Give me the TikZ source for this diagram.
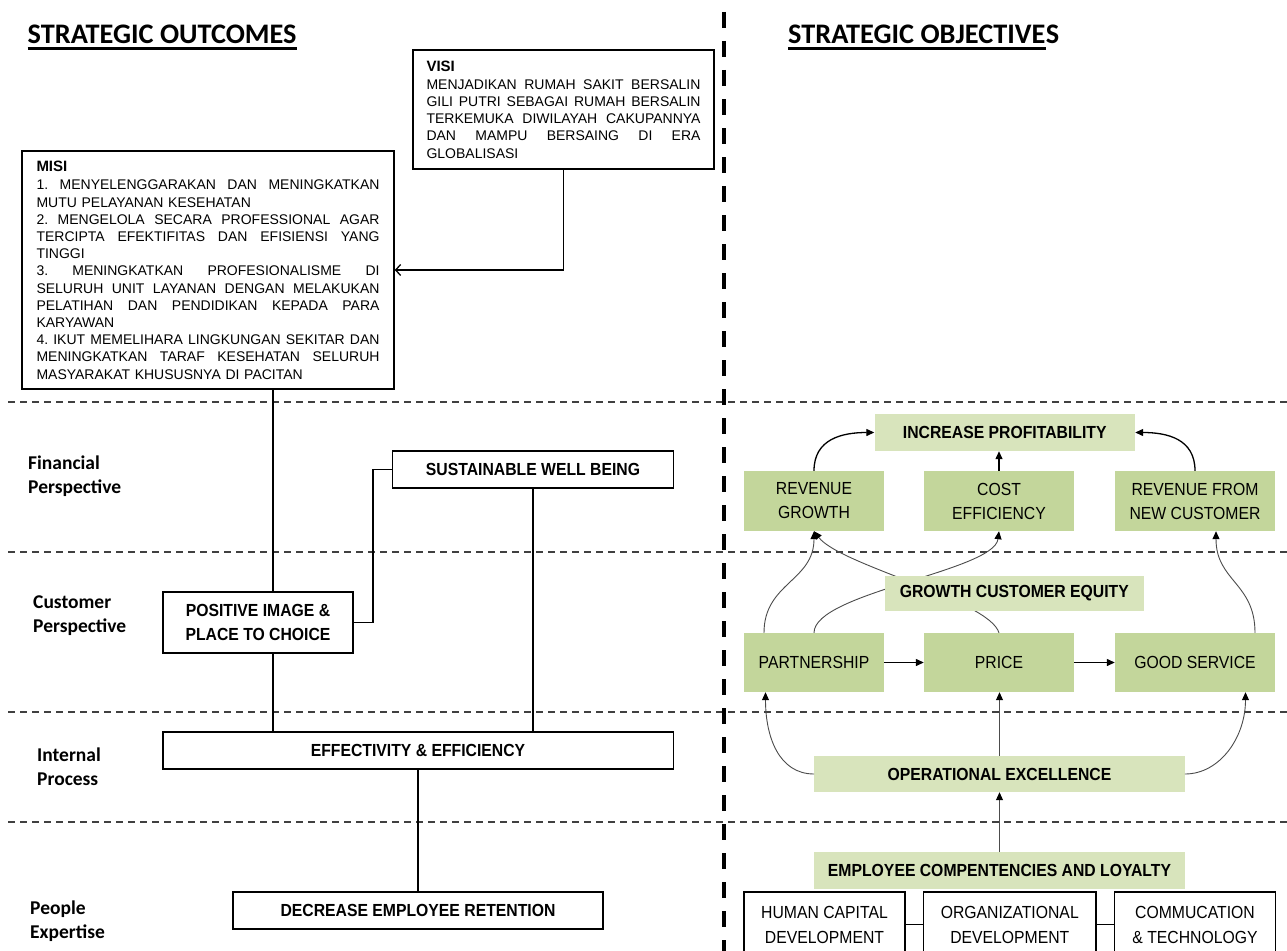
\documentclass[tikz,border=0pt]{standalone}
\usepackage{fontspec}
\setmainfont{Liberation Sans}
\newfontfamily\nar[FakeStretch=0.9]{Liberation Sans}
\newfontfamily\calfont{Carlito}
\usetikzlibrary{arrows.meta,calc}
\definecolor{gD}{RGB}{195,214,155}
\definecolor{gL}{RGB}{216,228,188}
\newcommand\jl[2][343pt]{\leavevmode\hbox to #1{#2}}
\newcommand\gp{\hfill\ }
\tikzset{
 hdash/.style={draw=black!75, line width=1.6pt, dash pattern=on 7pt off 5pt},
 vdash/.style={draw=black, line width=3.6pt, dash pattern=on 16pt off 13pt},
 titl/.style={font=\calfont\bfseries\fontsize{28.3}{31}\selectfont, inner sep=0pt, anchor=base west},
 persp/.style={anchor=west, align=left, inner sep=0pt, font=\calfont\bfseries\fontsize{19.5}{24}\selectfont},
 txtbox/.style={draw=black, line width=1.5pt, fill=white, inner sep=0pt, align=left, font=\fontsize{14}{17.2}\selectfont},
 lbox/.style={draw=black, line width=1.5pt, fill=white, inner sep=0pt, align=center, font=\nar\bfseries\fontsize{17.5}{24}\selectfont},
 gdark/.style={fill=gD, inner sep=0pt, align=center, font=\nar\fontsize{17.5}{24}\selectfont},
 glight/.style={fill=gL, inner sep=0pt, align=center, font=\nar\bfseries\fontsize{17.5}{24}\selectfont},
 wbox/.style={draw=black, line width=1.2pt, fill=white, inner sep=0pt, align=center, font=\nar\fontsize{17.5}{25}\selectfont},
 conn/.style={draw=black, line width=1.3pt},
 curv/.style={draw=black!70, line width=0.9pt},
 arrtip/.style={-{Triangle[length=8pt,width=7pt,color=black]}},
 openarr/.style={-{Straight Barb[length=5pt,width=11pt]}},
}
\begin{document}
\begin{tikzpicture}[x=1pt,y=-1pt]
\useasboundingbox (0,0) rectangle (1287,950);
\clip (0,0) rectangle (1287,950);
\fill[white] (0,0) rectangle (1287,950);

% dashed separators
\foreach \yy in {402,552,712,822} \draw[hdash] (8,\yy) -- (1287,\yy);
\draw[vdash] (724,12) -- (724,960);

% titles
\node[titl] (t1) at (27.5,44) {STRATEGIC OUTCOMES};
\draw[line width=2.4pt] ($(t1.base west)+(0,4.5)$) -- ($(t1.base east)+(0,4.5)$);
\node[titl] (t2a) at (788,44) {STRATEGIC OBJECTIVE};
\node[titl] (t2b) at (t2a.base east) {S};
\draw[line width=2.4pt] ($(t2a.base west)+(0,4.5)$) -- ($(t2a.base east)+(0,4.5)$);

% perspective labels
\node[persp] (lf) at (28,476) {Financial\\Perspective};
\node[persp] (lc) at (33,616) {Customer\\Perspective};
\node[persp] (li) at (37,767) {Internal\\Process};
\node[persp] (lp) at (30,921) {People\\Expertise};

% vision / mission
\node[txtbox, minimum width=301pt, minimum height=119pt, text width=274pt] (visi) at (563.5,109.5)
 {{\fontsize{15}{17.2}\selectfont\bfseries VISI}\\[1pt]
  \jl[274pt]{MENJADIKAN\gp RUMAH\gp SAKIT\gp BERSALIN}\\
  \jl[274pt]{GILI\gp PUTRI\gp SEBAGAI\gp RUMAH\gp BERSALIN}\\
  \jl[274pt]{TERKEMUKA\gp DIWILAYAH\gp CAKUPANNYA}\\
  \jl[274pt]{DAN\gp MAMPU\gp BERSAING\gp DI\gp ERA}\\
  GLOBALISASI};
\node[txtbox, minimum width=372pt, minimum height=238pt, text width=343pt] (misi) at (208,270)
 {{\fontsize{15}{17.2}\selectfont\bfseries MISI}\\[1.5pt]
  \jl{1.\gp MENYELENGGARAKAN\gp DAN\gp MENINGKATKAN}\\
  MUTU PELAYANAN KESEHATAN\\
  \jl{2.\gp MENGELOLA\gp SECARA\gp PROFESSIONAL\gp AGAR}\\
  \jl{TERCIPTA\gp EFEKTIFITAS\gp DAN\gp EFISIENSI\gp YANG}\\
  TINGGI\\
  \jl{3.\gp MENINGKATKAN\gp PROFESIONALISME\gp DI}\\
  \jl{SELURUH\gp UNIT\gp LAYANAN\gp DENGAN\gp MELAKUKAN}\\
  \jl{PELATIHAN\gp DAN\gp PENDIDIKAN\gp KEPADA\gp PARA}\\
  KARYAWAN\\
  \jl{4.\gp IKUT\gp MEMELIHARA\gp LINGKUNGAN\gp SEKITAR\gp DAN}\\
  \jl{MENINGKATKAN\gp TARAF\gp KESEHATAN\gp SELURUH}\\
  MASYARAKAT KHUSUSNYA DI PACITAN};

% left outcome boxes
\node[lbox, minimum width=281pt, minimum height=37pt] (swb) at (533,469.5) {SUSTAINABLE WELL BEING};
\node[lbox, minimum width=190pt, minimum height=61pt] (pos) at (258,622.5) {POSITIVE IMAGE \&\\PLACE TO CHOICE};
\node[lbox, minimum width=510.5pt, minimum height=37pt] (eff) at (418,750.5) {EFFECTIVITY \& EFFICIENCY};
\node[lbox, minimum width=370pt, minimum height=37pt] (dec) at (418,910.5) {DECREASE EMPLOYEE RETENTION};

\coordinate (xa) at (273,0);
\coordinate (xb) at (373,0);
\draw[conn, openarr] (visi.south) |- (misi.east);
\draw[conn] (misi.south -| xa) -- (pos.north -| xa);
\draw[conn] (pos.south -| xa) -- (eff.north -| xa);
\draw[conn] (pos.east) -- (pos.east -| xb) -- (swb.west -| xb) -- (swb.west);
\draw[conn] (swb.south) -- (swb.south |- eff.north);
\draw[conn] (eff.south) -- (dec.north);

% right objective boxes
\node[glight, minimum width=260.5pt, minimum height=37pt] (ip) at (1004.75,432.5) {INCREASE PROFITABILITY};
\node[gdark, minimum width=140pt, minimum height=60pt] (rg) at (814,501) {REVENUE\\GROWTH};
\node[gdark, minimum width=150pt, minimum height=60pt] (ce) at (999,501) {COST\\EFFICIENCY};
\node[gdark, minimum width=160pt, minimum height=60pt] (rn) at (1195,501) {REVENUE FROM\\NEW CUSTOMER};
\node[gdark, minimum width=140pt, minimum height=59pt] (pa) at (814,662.5) {PARTNERSHIP};
\node[gdark, minimum width=150pt, minimum height=59pt] (pr) at (999,662.5) {PRICE};
\node[gdark, minimum width=160pt, minimum height=59pt] (gs) at (1195,662.5) {GOOD SERVICE};
\node[glight, minimum width=370.5pt, minimum height=36pt] (oe) at (999.5,774) {OPERATIONAL EXCELLENCE};
\node[glight, minimum width=371pt, minimum height=37pt] (ec) at (999.5,870.5) {EMPLOYEE COMPENTENCIES AND LOYALTY};
\node[wbox, minimum width=161pt, minimum height=65pt] (hcd) at (824.5,924.5) {HUMAN CAPITAL\\DEVELOPMENT};
\node[wbox, minimum width=172.5pt, minimum height=65pt] (od) at (1009.75,924.5) {ORGANIZATIONAL\\DEVELOPMENT};
\node[wbox, minimum width=161pt, minimum height=65pt] (ct) at (1195,924.5) {COMMUCATION\\\& TECHNOLOGY};

% connectors on the right
\draw[conn, arrtip] (rg.north) .. controls +(0,-32) and +(-32,0) .. (ip.west);
\draw[conn, arrtip] (ce.north) -- (ce.north |- ip.south);
\draw[conn, arrtip] (rn.north) .. controls +(0,-32) and +(32,0) .. (ip.east);
\draw[curv, arrtip] ($(pa.north)+(-50,0)$) .. controls +(0,-50) and +(0,50) .. (rg.south);
\draw[curv, arrtip] (pa.north) .. controls +(0,-40) and +(-5,40) .. (ce.south);
\draw[curv, arrtip] (pr.north) .. controls +(-10,-33) and +(26,34) .. (rg.south);
\draw[curv, arrtip] ($(gs.north)+(60,0)$) .. controls +(0,-50) and +(0,50) .. ($(rn.south)+(21,0)$);
\draw[curv, arrtip] (oe.west) .. controls +(-35,0) and +(0,45) .. ($(pa.south)+(-48.5,0)$);
\draw[curv, arrtip] (oe.north) -- (oe.north |- pr.south);
\draw[curv, arrtip] (oe.east) .. controls +(35,0) and +(0,45) .. ($(gs.south)+(50.5,0)$);
\draw[curv, arrtip] (ec.north) -- (oe.south);
\draw[conn, arrtip] (pa.east) -- (pr.west);
\draw[conn, arrtip] (pr.east) -- (gs.west);
\draw[draw=black, line width=1.2pt] (hcd.east) -- (od.west);
\draw[draw=black, line width=1.2pt] (od.east) -- (ct.west);

% drawn last so that the curves pass behind it
\node[glight, minimum width=259.4pt, minimum height=35pt] (gce) at (1014.3,593.5) {GROWTH CUSTOMER EQUITY};
\end{tikzpicture}
\end{document}
